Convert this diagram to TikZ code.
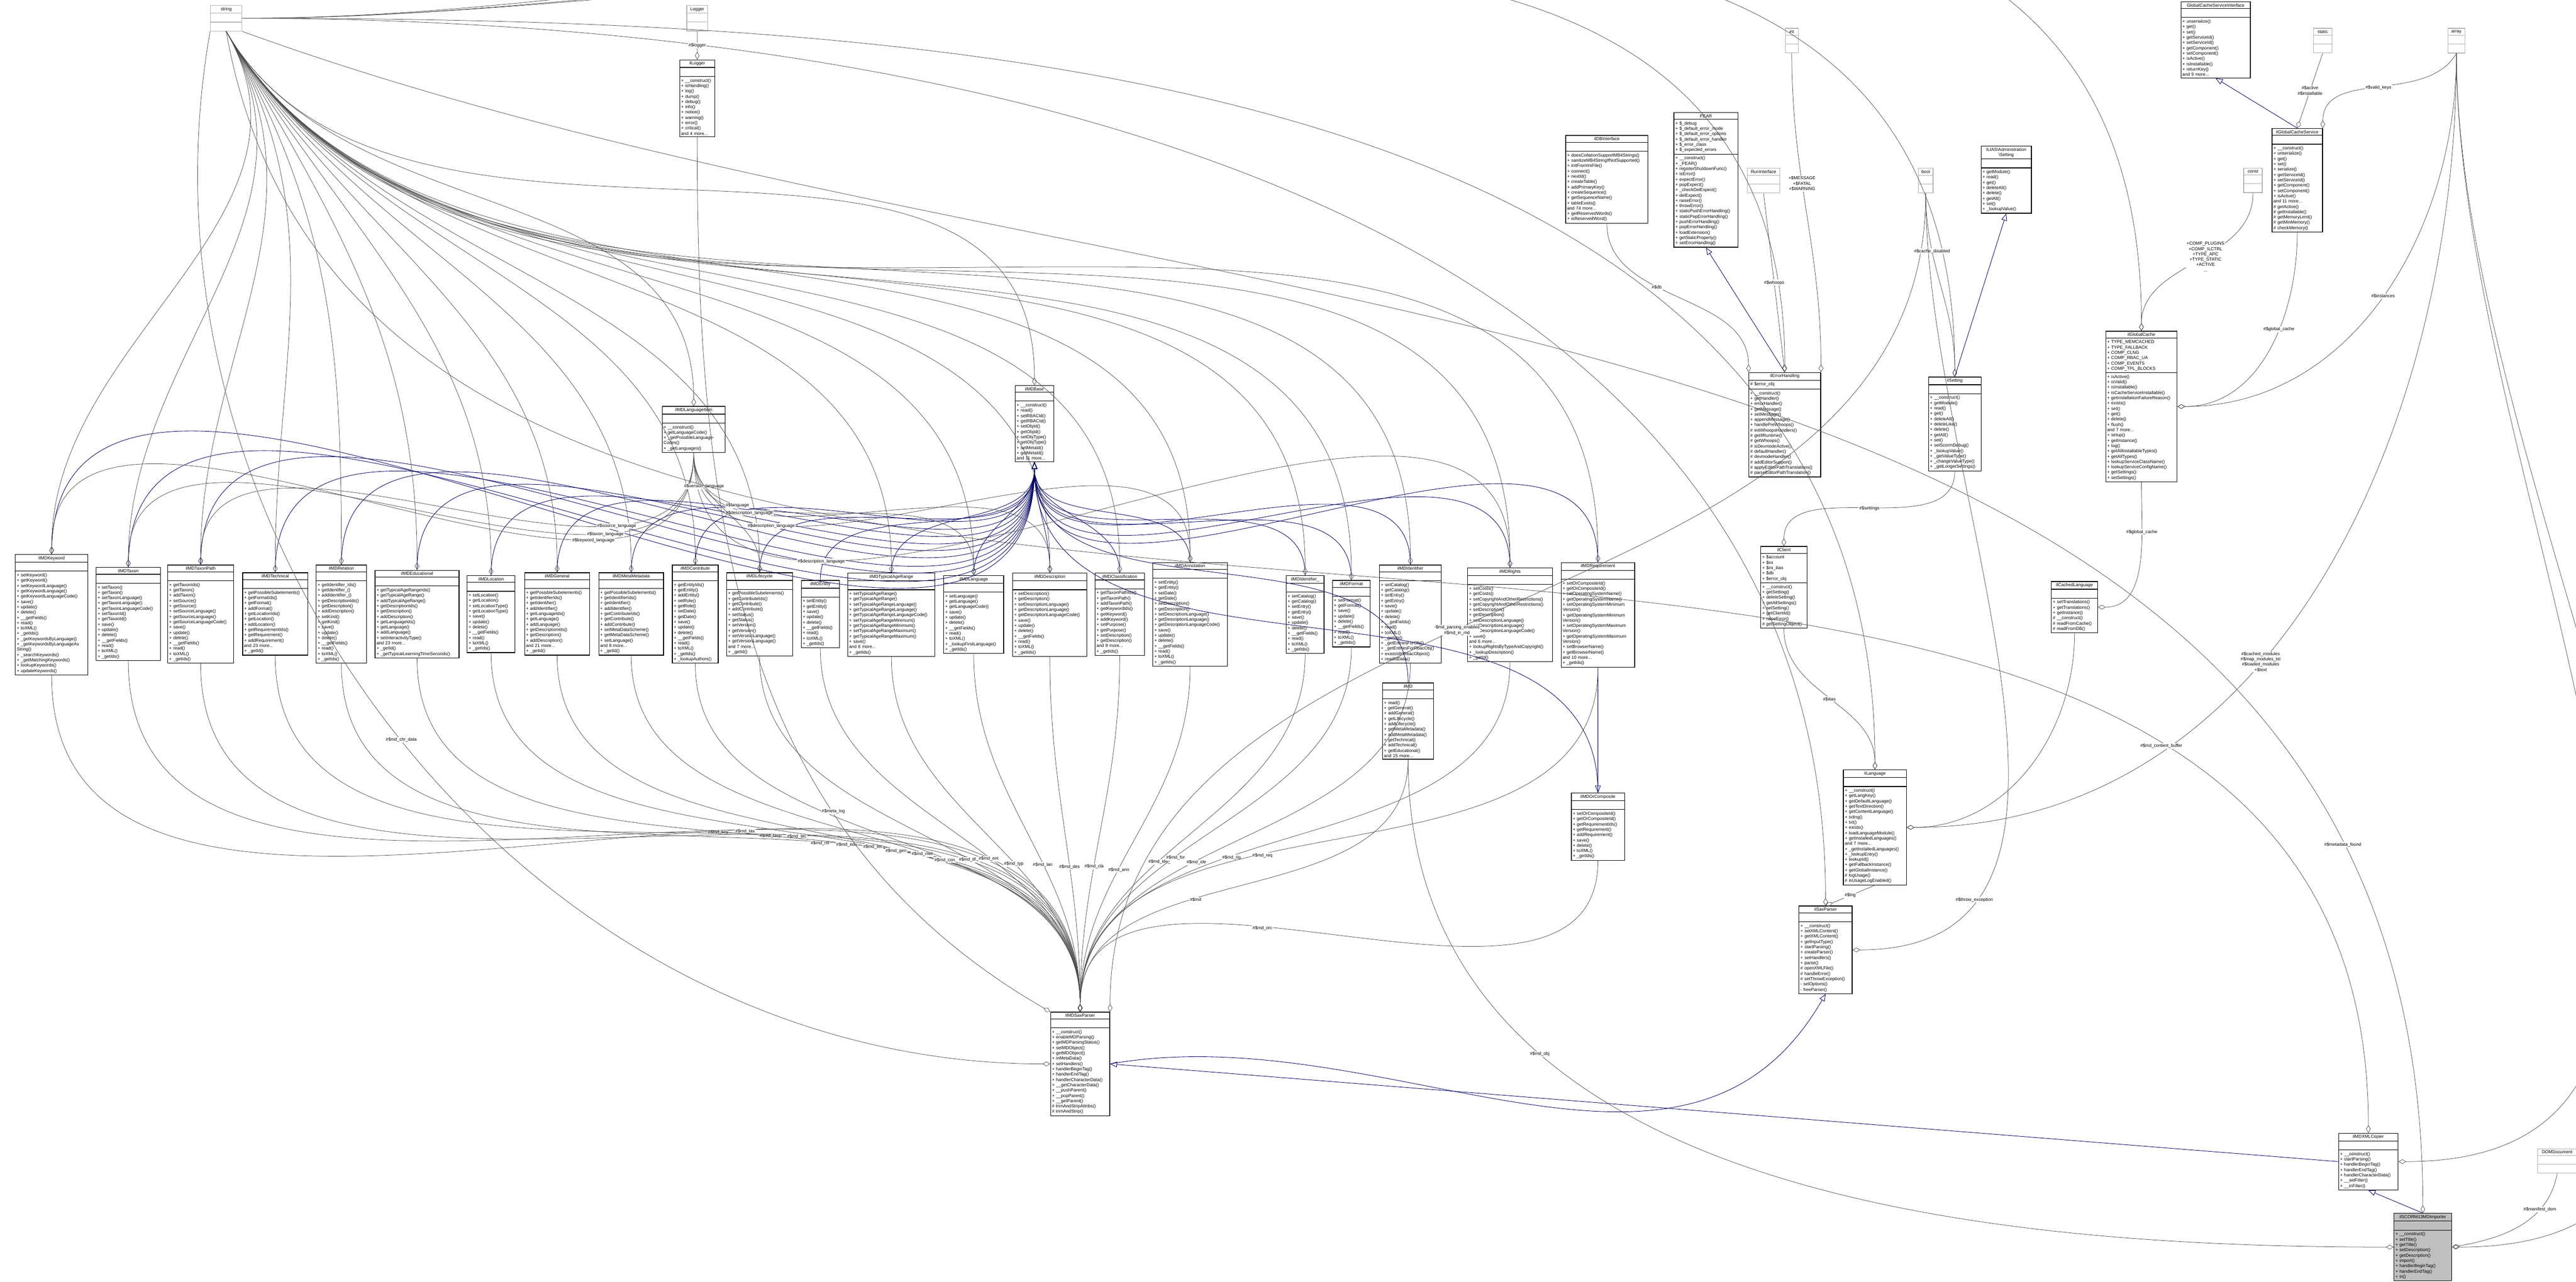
\documentclass[tikz,border=0pt]{standalone}
\usepackage{fontspec}
\setmainfont{Liberation Sans}
\usetikzlibrary{positioning,shapes.multipart,arrows.meta}

\tikzset{
  umlclass/.style={rectangle split, rectangle split parts=3, draw=black, fill=white,
    font=\fontsize{0.9}{1.08}\selectfont, inner sep=0.3pt, align=left, anchor=north west,
    line width=0.13pt},
  umlext/.style={umlclass, draw=gray!60},
  inherit/.style={draw=blue!40!black, -{Triangle[open,length=0.05cm,width=0.04cm]}, line width=0.09pt},
  compose/.style={draw=black!70, -{Diamond[open,length=0.055cm,width=0.033cm]}, line width=0.08pt},
  elabel/.style={font=\fontsize{0.9}{1.08}\selectfont, align=center, fill=white, inner sep=0.15pt}
}
% class box: name, x px, y px, width px, title, attributes, methods
\newcommand{\umlbox}[8][umlclass]{%
  \node[#1, text width=#5*0.0025cm-0.6pt] (#2) at (#3*0.0025,-#4*0.0025)
    {\centering #6\par \nodepart{second}\strut #7 \nodepart{third}\strut #8};}

\begin{document}
\begin{tikzpicture}
\useasboundingbox (0,0) rectangle (18.4075,-9.16);

% external types
\umlbox[umlext]{string}{600}{15}{90}{string}{}{}
\umlbox[umlext]{Logger}{1960}{15}{60}{Logger}{}{}
\umlbox[umlext]{int}{5097}{80}{37}{int}{}{}
\umlbox[umlext]{bool}{5477}{480}{42}{bool}{}{}
\umlbox[umlext]{const}{6406}{480}{53}{const}{}{}
\umlbox[umlext]{static}{6605}{80}{53}{static}{}{}
\umlbox[umlext]{array}{6989}{80}{49}{array}{}{}
\umlbox[umlext]{RunInterface}{4989}{480}{92}{RunInterface}{}{}
\umlbox[umlext]{DOMDocument}{7245}{3280}{112}{DOMDocument}{}{}

% framework classes
\umlbox{GlobalCacheServiceInterface}{6227}{4}{198}{GlobalCacheServiceInterface}{}{+ unserialize()\\+ get()\\+ set()\\+ getServiceId()\\+ setServiceId()\\+ getComponent()\\+ setComponent()\\+ isActive()\\+ isInstallable()\\+ returnKey()\\and 9 more...}
\umlbox{ilGlobalCacheService}{6487}{366}{144}{ilGlobalCacheService}{}{+ \_\_construct()\\+ unserialize()\\+ get()\\+ set()\\+ serialize()\\+ getServiceId()\\+ setServiceId()\\+ getComponent()\\+ setComponent()\\+ isActive()\\and 11 more...\\\# getActive()\\\# getInstallable()\\\# getMemoryLimit()\\\# getMinMemory()\\\# checkMemory()}
\umlbox{PEAR}{4779}{321}{183}{PEAR}{+ \$\_debug\\+ \$\_default\_error\_mode\\+ \$\_default\_error\_options\\+ \$\_default\_error\_handler\\+ \$\_error\_class\\+ \$\_expected\_errors}{+ \_\_construct()\\+ \_PEAR()\\+ registerShutdownFunc()\\+ isError()\\+ expectError()\\+ popExpect()\\+ \_checkDelExpect()\\+ delExpect()\\+ raiseError()\\+ throwError()\\+ staticPushErrorHandling()\\+ staticPopErrorHandling()\\+ pushErrorHandling()\\+ popErrorHandling()\\+ loadExtension()\\+ getStaticProperty()\\+ setErrorHandling()}
\umlbox{ilDBInterface}{4470}{386}{235}{ilDBInterface}{}{+ doesCollationSupportMB4Strings()\\+ sanitizeMB4StringIfNotSupported()\\+ initFromIniFile()\\+ connect()\\+ nextId()\\+ createTable()\\+ addPrimaryKey()\\+ createSequence()\\+ getSequenceName()\\+ tableExists()\\and 74 more...\\+ getReservedWords()\\+ isReservedWord()}
\umlbox{ILIASSetting}{5656}{416}{144}{ILIAS\textbackslash Administration\\\textbackslash Setting}{}{+ getModule()\\+ read()\\+ get()\\+ deleteAll()\\+ delete()\\+ getAll()\\+ set()\\+ \_lookupValue()}
\umlbox{ilErrorHandling}{4993}{1063}{205}{ilErrorHandling}{\# \$error\_obj}{+ \_\_construct()\\+ getHandler()\\+ errorHandler()\\+ getMessage()\\+ setMessage()\\+ appendMessage()\\+ handlePreWhoops()\\\# initWhoopsHandlers()\\\# getIlRuntime()\\\# getWhoops()\\\# isDevmodeActive()\\\# defaultHandler()\\\# devmodeHandler()\\\# addEditorSupport()\\\# applyEditorPathTranslations()\\\# parseEditorPathTranslation()}
\umlbox{ilSetting}{5506}{1076}{150}{ilSetting}{}{+ \_\_construct()\\+ getModule()\\+ read()\\+ get()\\+ deleteAll()\\+ deleteLike()\\+ delete()\\+ getAll()\\+ set()\\+ setScormDebug()\\+ \_lookupValue()\\+ \_getValueType()\\+ \_changeValueType()\\+ \_getLongerSettings()}
\umlbox{ilGlobalCache}{6012}{945}{204}{ilGlobalCache}{+ TYPE\_MEMCACHED\\+ TYPE\_FALLBACK\\+ COMP\_CLNG\\+ COMP\_RBAC\_UA\\+ COMP\_EVENTS\\+ COMP\_TPL\_BLOCKS}{+ isActive()\\+ isValid()\\+ isInstallable()\\+ isCacheServiceInstallable()\\+ getInstallationFailureReason()\\+ exists()\\+ set()\\+ get()\\+ delete()\\+ flush()\\and 7 more...\\+ setup()\\+ getInstance()\\+ log()\\+ getAllInstallableTypes()\\+ getAllTypes()\\+ lookupServiceClassName()\\+ lookupServiceConfigName()\\+ getSettings()\\+ setSettings()}
\umlbox{ilClient}{5027}{1560}{132}{ilClient}{+ \$account\\+ \$ini\\+ \$ini\_ilias\\+ \$db\\+ \$error\_obj}{+ \_\_construct()\\+ getSetting()\\+ deleteSetting()\\+ getAllSettings()\\+ setSetting()\\+ getClientId()\\+ raiseError()\\\# getSettingObject()}
\umlbox{ilCachedLanguage}{5857}{1660}{132}{ilCachedLanguage}{}{+ setTranslations()\\+ getTranslations()\\+ getInstance()\\\# \_\_construct()\\\# readFromCache()\\\# readFromDB()}
\umlbox{ilLanguage}{5263}{2198}{180}{ilLanguage}{}{+ \_\_construct()\\+ getLangKey()\\+ getDefaultLanguage()\\+ getTextDirection()\\+ getContentLanguage()\\+ txtlng()\\+ txt()\\+ exists()\\+ loadLanguageModule()\\+ getInstalledLanguages()\\and 7 more...\\+ \_getInstalledLanguages()\\+ \_lookupEntry()\\+ lookupId()\\+ getFallbackInstance()\\+ getGlobalInstance()\\\# logUsage()\\\# isUsageLogEnabled()}
\umlbox{ilSaxParser}{5136}{2587}{152}{ilSaxParser}{}{+ \_\_construct()\\+ setXMLContent()\\+ getXMLContent()\\+ getInputType()\\+ startParsing()\\+ createParser()\\+ setHandlers()\\+ parse()\\\# openXMLFile()\\\# handleError()\\\# setThrowException()\\- setOptions()\\- freeParser()}
\umlbox{ilLogger}{1940}{170}{100}{ilLogger}{}{+ \_\_construct()\\+ isHandling()\\+ log()\\+ dump()\\+ debug()\\+ info()\\+ notice()\\+ warning()\\+ error()\\+ critical()\\and 4 more...}

% metadata classes
\umlbox{IMDBase}{2898}{1100}{110}{ilMDBase}{}{+ \_\_construct()\\+ read()\\+ setRBACId()\\+ getRBACId()\\+ setObjId()\\+ getObjId()\\+ setObjType()\\+ getObjType()\\+ setMetaId()\\+ getMetaId()\\and 11 more...}
\umlbox{LangItem}{1890}{1160}{180}{ilMDLanguageItem}{}{+ \_\_construct()\\+ getLanguageCode()\\+ \_getPossibleLanguageCodes()\\+ \_getLanguages()}
\umlbox{Keyword}{43}{1583}{207}{ilMDKeyword}{}{+ setKeyword()\\+ getKeyword()\\+ setKeywordLanguage()\\+ getKeywordLanguage()\\+ getKeywordLanguageCode()\\+ save()\\+ update()\\+ delete()\\+ \_\_getFields()\\+ read()\\+ toXML()\\+ \_getIds()\\+ \_getKeywordsByLanguage()\\+ \_getKeywordsByLanguageAs\\String()\\+ \_searchKeywords()\\+ \_getMatchingKeywords()\\+ lookupKeywords()\\+ updateKeywords()}
\umlbox{Taxon}{274}{1620}{183}{ilMDTaxon}{}{+ setTaxon()\\+ getTaxon()\\+ setTaxonLanguage()\\+ getTaxonLanguage()\\+ getTaxonLanguageCode()\\+ setTaxonId()\\+ getTaxonId()\\+ save()\\+ update()\\+ delete()\\+ \_\_getFields()\\+ read()\\+ toXML()\\+ \_getIds()}
\umlbox{TaxonPath}{478}{1613}{188}{ilMDTaxonPath}{}{+ getTaxonIds()\\+ getTaxon()\\+ addTaxon()\\+ setSource()\\+ getSource()\\+ setSourceLanguage()\\+ getSourceLanguage()\\+ getSourceLanguageCode()\\+ save()\\+ update()\\+ delete()\\+ \_\_getFields()\\+ read()\\+ toXML()\\+ \_getIds()}
\umlbox{Technical}{692}{1635}{186}{ilMDTechnical}{}{+ getPossibleSubelements()\\+ getFormatIds()\\+ getFormat()\\+ addFormat()\\+ getLocationIds()\\+ getLocation()\\+ addLocation()\\+ getRequirementIds()\\+ getRequirement()\\+ addRequirement()\\and 23 more...\\+ \_getId()}
\umlbox{Relation}{902}{1613}{144}{ilMDRelation}{}{+ getIdentifier\_Ids()\\+ getIdentifier\_()\\+ addIdentifier\_()\\+ getDescriptionIds()\\+ getDescription()\\+ addDescription()\\+ setKind()\\+ getKind()\\+ save()\\+ update()\\+ delete()\\+ \_\_getFields()\\+ read()\\+ toXML()\\+ \_getIds()}
\umlbox{Educational}{1070}{1628}{240}{ilMDEducational}{}{+ getTypicalAgeRangeIds()\\+ getTypicalAgeRange()\\+ addTypicalAgeRange()\\+ getDescriptionIds()\\+ getDescription()\\+ addDescription()\\+ getLanguageIds()\\+ getLanguage()\\+ addLanguage()\\+ setInteractivityType()\\and 23 more...\\+ \_getId()\\+ \_getTypicalLearningTimeSeconds()}
\umlbox{Location}{1333}{1643}{137}{ilMDLocation}{}{+ setLocation()\\+ getLocation()\\+ setLocationType()\\+ getLocationType()\\+ save()\\+ update()\\+ delete()\\+ \_\_getFields()\\+ read()\\+ toXML()\\+ \_getIds()}
\umlbox{General}{1497}{1635}{186}{ilMDGeneral}{}{+ getPossibleSubelements()\\+ getIdentifierIds()\\+ getIdentifier()\\+ addIdentifier()\\+ getLanguageIds()\\+ getLanguage()\\+ addLanguage()\\+ getDescriptionIds()\\+ getDescription()\\+ addDescription()\\and 21 more...\\+ \_getId()}
\umlbox{MetaMetadata}{1709}{1635}{185}{ilMDMetaMetadata}{}{+ getPossibleSubelements()\\+ getIdentifierIds()\\+ getIdentifier()\\+ addIdentifier()\\+ getContributeIds()\\+ getContribute()\\+ addContribute()\\+ setMetaDataScheme()\\+ getMetaDataScheme()\\+ setLanguage()\\and 8 more...\\+ \_getId()}
\umlbox{Contribute}{1919}{1613}{131}{ilMDContribute}{}{+ getEntityIds()\\+ getEntity()\\+ addEntity()\\+ setRole()\\+ getRole()\\+ setDate()\\+ getDate()\\+ save()\\+ update()\\+ delete()\\+ \_\_getFields()\\+ read()\\+ toXML()\\+ \_getIds()\\+ \_lookupAuthors()}
\umlbox{Lifecycle}{2074}{1635}{188}{ilMDLifecycle}{}{+ getPossibleSubelements()\\+ getContributeIds()\\+ getContribute()\\+ addContribute()\\+ setStatus()\\+ getStatus()\\+ setVersion()\\+ getVersion()\\+ setVersionLanguage()\\+ getVersionLanguage()\\and 7 more...\\+ \_getId()}
\umlbox{Entity}{2287}{1657}{109}{ilMDEntity}{}{+ setEntity()\\+ getEntity()\\+ save()\\+ update()\\+ delete()\\+ \_\_getFields()\\+ read()\\+ toXML()\\+ \_getIds()}
\umlbox{AgeRange}{2420}{1636}{249}{ilMDTypicalAgeRange}{}{+ setTypicalAgeRange()\\+ getTypicalAgeRange()\\+ setTypicalAgeRangeLanguage()\\+ getTypicalAgeRangeLanguage()\\+ getTypicalAgeRangeLanguageCode()\\+ setTypicalAgeRangeMinimum()\\+ getTypicalAgeRangeMinimum()\\+ setTypicalAgeRangeMaximum()\\+ getTypicalAgeRangeMaximum()\\+ save()\\and 6 more...\\+ \_getIds()}
\umlbox{Language}{2694}{1643}{171}{ilMDLanguage}{}{+ setLanguage()\\+ getLanguage()\\+ getLanguageCode()\\+ save()\\+ update()\\+ delete()\\+ \_\_getFields()\\+ read()\\+ toXML()\\+ \_lookupFirstLanguage()\\+ \_getIds()}
\umlbox{Description}{2891}{1636}{212}{ilMDDescription}{}{+ setDescription()\\+ getDescription()\\+ setDescriptionLanguage()\\+ getDescriptionLanguage()\\+ getDescriptionLanguageCode()\\+ save()\\+ update()\\+ delete()\\+ \_\_getFields()\\+ read()\\+ toXML()\\+ \_getIds()}
\umlbox{Classification}{3126}{1636}{141}{ilMDClassification}{}{+ getTaxonPathIds()\\+ getTaxonPath()\\+ addTaxonPath()\\+ getKeywordIds()\\+ getKeyword()\\+ addKeyword()\\+ setPurpose()\\+ getPurpose()\\+ setDescription()\\+ getDescription()\\and 9 more...\\+ \_getIds()}
\umlbox{Annotation}{3291}{1606}{213}{ilMDAnnotation}{}{+ setEntity()\\+ getEntity()\\+ setDate()\\+ getDate()\\+ setDescription()\\+ getDescription()\\+ setDescriptionLanguage()\\+ getDescriptionLanguage()\\+ getDescriptionLanguageCode()\\+ save()\\+ update()\\+ delete()\\+ \_\_getFields()\\+ read()\\+ toXML()\\+ \_getIds()}
\umlbox{IdentifierU}{3672}{1643}{108}{ilMDIdentifier\_}{}{+ setCatalog()\\+ getCatalog()\\+ setEntry()\\+ getEntry()\\+ save()\\+ update()\\+ delete()\\+ \_\_getFields()\\+ read()\\+ toXML()\\+ \_getIds()}
\umlbox{Format}{3804}{1657}{108}{ilMDFormat}{}{+ setFormat()\\+ getFormat()\\+ save()\\+ update()\\+ delete()\\+ \_\_getFields()\\+ read()\\+ toXML()\\+ \_getIds()}
\umlbox{Identifier}{3938}{1613}{177}{ilMDIdentifier}{}{+ setCatalog()\\+ getCatalog()\\+ setEntry()\\+ getEntry()\\+ save()\\+ update()\\+ delete()\\+ \_\_getFields()\\+ read()\\+ toXML()\\+ \_getIds()\\+ \_getEntriesForObj()\\+ \_getEntriesForRbacObj()\\+ existsIdInRbacObject()\\+ readIdData()}
\umlbox{Rights}{4190}{1621}{242}{ilMDRights}{}{+ setCosts()\\+ getCosts()\\+ setCopyrightAndOtherRestrictions()\\+ getCopyrightAndOtherRestrictions()\\+ setDescription()\\+ getDescription()\\+ setDescriptionLanguage()\\+ getDescriptionLanguage()\\+ getDescriptionLanguageCode()\\+ save()\\and 6 more...\\+ lookupRightsByTypeAndCopyright()\\+ \_lookupDescription()\\+ \_getId()}
\umlbox{Requirement}{4457}{1606}{210}{ilMDRequirement}{}{+ setOrCompositeId()\\+ getOrCompositeId()\\+ setOperatingSystemName()\\+ getOperatingSystemName()\\+ setOperatingSystemMinimum\\Version()\\+ getOperatingSystemMinimum\\Version()\\+ setOperatingSystemMaximum\\Version()\\+ getOperatingSystemMaximum\\Version()\\+ setBrowserName()\\+ getBrowserName()\\and 10 more...\\+ \_getIds()}
\umlbox{MD}{3947}{1950}{146}{ilMD}{}{+ read()\\+ getGeneral()\\+ addGeneral()\\+ getLifecycle()\\+ addLifecycle()\\+ getMetaMetadata()\\+ addMetaMetadata()\\+ getTechnical()\\+ addTechnical()\\+ getEducational()\\and 15 more...}
\umlbox{OrComposite}{4486}{2264}{152}{ilMDOrComposite}{}{+ setOrCompositeId()\\+ getOrCompositeId()\\+ getRequirementIds()\\+ getRequirement()\\+ addRequirement()\\+ save()\\+ delete()\\+ toXML()\\+ \_getIds()}
\umlbox{MDSaxParser}{2999}{2890}{169}{ilMDSaxParser}{}{+ \_\_construct()\\+ enableMDParsing()\\+ getMDParsingStatus()\\+ setMDObject()\\+ getMDObject()\\+ inMetaData()\\+ setHandlers()\\+ handlerBeginTag()\\+ handlerEndTag()\\+ handlerCharacterData()\\+ \_\_getCharacterData()\\+ \_\_pushParent()\\+ \_\_popParent()\\+ \_\_getParent()\\\# trimAndStripAttribs()\\\# trimAndStrip()}
\umlbox{XMLCopier}{6677}{3236}{170}{ilMDXMLCopier}{}{+ \_\_construct()\\+ startParsing()\\+ handlerBeginTag()\\+ handlerEndTag()\\+ handlerCharacterData()\\+ \_\_setFilter()\\+ \_\_inFilter()}
\umlbox[umlclass,fill=gray!50]{Importer}{6835}{3465}{165}{ilSCORM13MDImporter}{}{+ \_\_construct()\\+ setTitle()\\+ getTitle()\\+ setDescription()\\+ getDescription()\\+ import()\\+ handlerBeginTag()\\+ handlerEndTag()\\+ in()}

% inheritance
\foreach \c in {Keyword,Taxon,TaxonPath,Technical,Relation,Educational,Location,General,MetaMetadata,Contribute,Lifecycle,Entity,AgeRange,Language,Description,Classification,Annotation,IdentifierU,Format,Identifier,Rights,Requirement,MD,OrComposite}
  \draw[inherit] (\c.north) to[out=90,in=-90] (IMDBase.south);
\draw[inherit] (Requirement.south) -- (OrComposite.north);
\draw[inherit] (MDSaxParser.east) to[out=10,in=-120] (ilSaxParser.south);
\draw[inherit] (XMLCopier.west) -- (MDSaxParser.east);
\draw[inherit] (Importer.north) -- (XMLCopier.south);
\draw[inherit] (ilErrorHandling.north) -- (PEAR.south);
\draw[inherit] (ilSetting.north) -- (ILIASSetting.south);
\draw[inherit] (ilGlobalCacheService.north) -- (GlobalCacheServiceInterface.south);

% string members
\foreach \c in {Keyword,Taxon,TaxonPath,Technical,Relation,Educational,Location,General,MetaMetadata,Contribute,Lifecycle,AgeRange,Language,Description,Classification,Annotation,IdentifierU,Format,Identifier,Rights,Requirement,IMDBase,LangItem}
  \draw[compose] (string.south) to[out=-60,in=90] (\c.north);
\foreach \c in {ilLanguage,ilSetting,ilGlobalCache,ilSaxParser,ilErrorHandling}
  \draw[compose] (string.east) to[out=0,in=90] (\c.north);

% language items
\foreach \c/\l in {Keyword/keyword\_language,Taxon/taxon\_language,TaxonPath/source\_language,Description/description\_language,Annotation/description\_language,Rights/description\_language,Lifecycle/version\_language,Language/language}
  \draw[compose] (LangItem.south) to[out=-90,in=90] node[elabel, pos=0.25] {\#\$\l} (\c.north);

% saxparser members
\foreach \c/\l in {Keyword/md\_key,Taxon/md\_tax,TaxonPath/md\_taxp,Technical/md\_tec,Relation/md\_rel,Educational/md\_edu,Location/md\_loc,General/md\_gen,MetaMetadata/md\_met,Contribute/md\_con,Lifecycle/md\_lif,Entity/md\_ent,AgeRange/md\_typ,Language/md\_lan,Description/md\_des,Classification/md\_cla,Annotation/md\_ann,IdentifierU/md\_ide\_,Format/md\_for,Identifier/md\_ide,Rights/md\_rig,Requirement/md\_req,MD/md,OrComposite/md\_orc}
  \draw[compose] (\c.south) to[out=-90,in=90] node[elabel, pos=0.6] {\#\$\l} (MDSaxParser.north);

% framework members
\draw[compose] (Logger.south) -- node[elabel] {\#\$logger} (ilLogger.north);
\draw[compose] (ilLogger.south) to[out=-90,in=150] node[elabel, pos=0.7] {\#\$meta\_log} (MDSaxParser.north west);
\draw[compose] (bool.south) to[out=-90,in=90] node[elabel, pos=0.55] {-\$md\_parsing\_enabled\\\#\$md\_in\_md} (MDSaxParser.north east);
\draw[compose] (string.south west) to[out=-100,in=180] node[elabel, pos=0.5] {\#\$md\_chr\_data} (MDSaxParser.west);
\draw[compose] (ilDBInterface.south) to[out=-90,in=90] node[elabel, pos=0.4] {\#\$db} (ilErrorHandling.north west);
\draw[compose] (RunInterface.south) -- node[elabel] {\#\$whoops} (ilErrorHandling.north);
\draw[compose] (int.south) to[out=-90,in=90] node[elabel, pos=0.4] {+\$MESSAGE\\+\$FATAL\\+\$WARNING} (ilErrorHandling.north east);
\draw[compose] (bool.south) to[out=-90,in=90] node[elabel, pos=0.3] {\#\$cache\_disabled} (ilSetting.north);
\draw[compose] (array.south) to[out=-90,in=0] node[elabel, pos=0.5] {\#\$instances} (ilGlobalCache.east);
\draw[compose] (const.south) to[out=-90,in=90] node[elabel, pos=0.45] {+COMP\_PLUGINS\\+COMP\_ILCTRL\\+TYPE\_APC\\+TYPE\_STATIC\\+ACTIVE\\...} (ilGlobalCache.north);
\draw[compose] (static.south) -- node[elabel] {\#\$active\\\#\$installable} (ilGlobalCacheService.north);
\draw[compose] (array.south) to[out=-120,in=90] node[elabel] {\#\$valid\_keys} (ilGlobalCacheService.north east);
\draw[compose] (ilGlobalCacheService.south) to[out=-90,in=0] node[elabel, pos=0.4] {\#\$global\_cache} (ilGlobalCache.east);
\draw[compose] (ilGlobalCache.south) to[out=-90,in=0] node[elabel, pos=0.3] {\#\$global\_cache} (ilCachedLanguage.east);
\draw[compose] (ilSetting.south) to[out=-90,in=90] node[elabel, pos=0.5] {\#\$settings} (ilClient.north);
\draw[compose] (ilClient.south) to[out=-90,in=90] node[elabel, pos=0.5] {\#\$ilias} (ilLanguage.north);
\draw[compose] (ilCachedLanguage.south) to[out=-90,in=0] (ilLanguage.east);
\draw[compose] (array.south) to[out=-90,in=0] node[elabel, pos=0.6] {\#\$cached\_modules\\\#\$map\_modules\_txt\\\#\$loaded\_modules\\+\$text} (ilLanguage.east);
\draw[compose] (ilLanguage.south) -- node[elabel] {\#\$lng} (ilSaxParser.north);
\draw[compose] (bool.south) to[out=-90,in=0] node[elabel, pos=0.8] {\#\$throw\_exception} (ilSaxParser.east);
\draw[compose] (string.south) to[out=-80,in=90] node[elabel, pos=0.8] {\#\$md\_content\_buffer} (XMLCopier.north);
\draw[compose] (array.south) to[out=-90,in=0] node[elabel, pos=0.7] {\#\$filter} (XMLCopier.east);
\draw[compose] (string.south east) to[out=-20,in=90] node[elabel, pos=0.85] {\#\$metadata\_found} (Importer.north);
\draw[compose] (array.south) to[out=-90,in=0] node[elabel, pos=0.7] {\#\$path} (Importer.east);
\draw[compose] (DOMDocument.south) to[out=-100,in=10] node[elabel, pos=0.3] {\#\$manifest\_dom} (Importer.east);
\draw[compose] (MD.south) to[out=-90,in=180] node[elabel, pos=0.3] {\#\$md\_obj} (Importer.west);
\end{tikzpicture}
\end{document}
